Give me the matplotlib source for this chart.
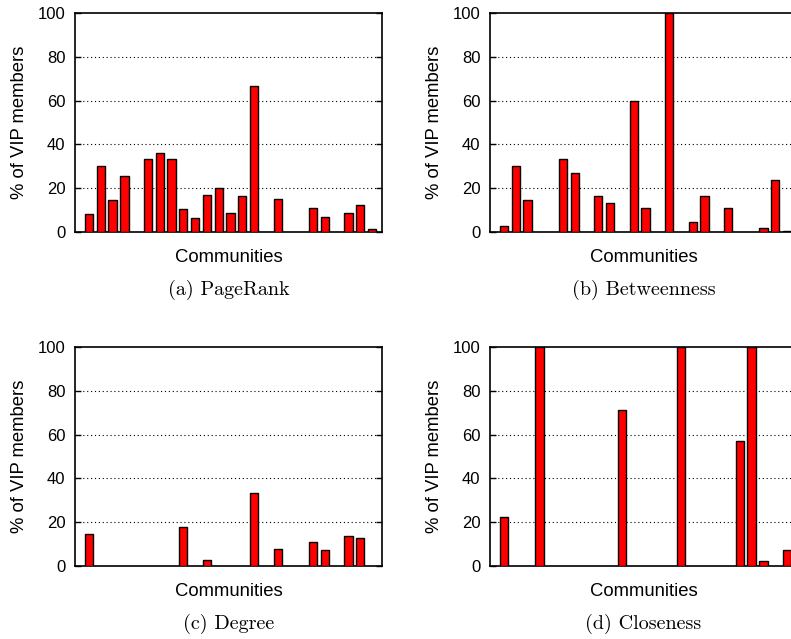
import numpy as np
import matplotlib
matplotlib.use('Agg')
import matplotlib.pyplot as plt

plt.rcParams['font.family'] = ['Liberation Sans', 'DejaVu Sans']

# one slot per community, 0 = no VIP members
communities = np.arange(25)

pagerank = [8.0, 30.0, 14.6, 25.7, 0, 33.3, 36.2, 33.3, 10.5, 6.4, 16.9, 20.0, 8.8,
            16.4, 66.7, 0, 14.9, 0, 0, 11.0, 6.8, 0, 8.8, 12.5, 1.4]
betweenness = [2.9, 30.0, 14.6, 0, 0, 33.3, 27.1, 0, 16.4, 13.2, 0, 60.0, 11.1,
               0, 100.0, 0, 4.6, 16.4, 0, 11.0, 0, 0, 2.0, 23.6, 0.5]
degree = [14.4, 0, 0, 0, 0, 0, 0, 0, 17.9, 0, 2.7, 0, 0,
          0, 33.3, 0, 7.6, 0, 0, 11.1, 7.1, 0, 13.5, 12.6, 0]
closeness = [22.6, 0, 0, 100.0, 0, 0, 0, 0, 0, 0, 71.4, 0, 0,
             0, 0, 100.0, 0, 0, 0, 0, 57.3, 100.0, 2.1, 0, 7.1]

panels = [
    (pagerank, '(a) PageRank'),
    (betweenness, '(b) Betweenness'),
    (degree, '(c) Degree'),
    (closeness, '(d) Closeness'),
]

W, H = 791, 639
fig = plt.figure(figsize=(W / 100, H / 100), dpi=100)

# pixel boxes: left, top (all panels share width/height)
boxes = [(75, 13), (490, 13), (75, 347), (490, 347)]
aw, ah = 307, 219

for (vals, caption), (x0, y0) in zip(panels, boxes):
    ax = fig.add_axes([x0 / W, 1 - (y0 + ah) / H, aw / W, ah / H])
    shown = [(c, v) for c, v in zip(communities, vals) if v > 0]
    xs = [c for c, v in shown]
    hs = [v for c, v in shown]
    ax.bar(xs, hs, width=0.7, color='#ff0000', edgecolor='black', linewidth=1.0, zorder=3)
    ax.set_xlim(-1.19, 24.85)
    ax.set_ylim(0, 100)
    ax.set_yticks([0, 20, 40, 60, 80, 100])
    ax.set_xticks([])
    ax.tick_params(axis='y', direction='in', length=4, width=1, right=True,
                   labelsize=12, pad=7)
    for y in [20, 40, 60, 80]:
        ax.axhline(y, color='black', linestyle=(0, (1, 2.5)), linewidth=0.8, zorder=1)
    for s in ax.spines.values():
        s.set_linewidth(1.2)
    ax.set_ylabel('% of VIP members', fontsize=13.3, labelpad=6.5)
    ax.set_xlabel('Communities', fontsize=13.3, labelpad=12)
    fig.text((x0 + aw / 2) / W, 1 - (y0 + ah + 58) / H, caption,
             family='cmr10', fontsize=14.5, ha='center', va='center')

fig.savefig('out.png', dpi=100)
